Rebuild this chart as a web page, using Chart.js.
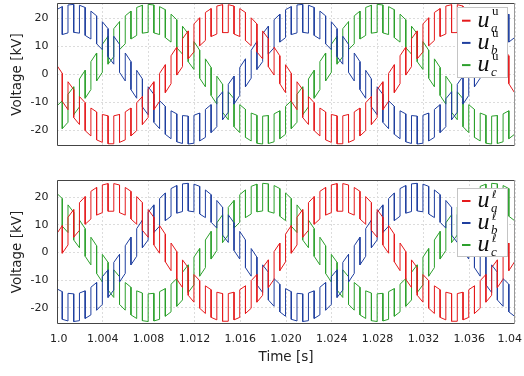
<!DOCTYPE html>
<html>
<head>
<meta charset="utf-8">
<script src="https://cdn.jsdelivr.net/npm/chart.js@4.4.0/dist/chart.umd.min.js"></script>
<style>
    html, body { margin: 0; padding: 0; background: #fff; }
    #wrap { position: relative; width: 524px; height: 376px; }
    #upper { position: absolute; left: 0; top: 0; }
    #lower { position: absolute; left: 0; top: 163px; }
</style>
</head>
<body>
<div id="wrap">
    <canvas id="upper" width="524" height="163"></canvas>
    <canvas id="lower" width="524" height="213"></canvas>
</div>
<script>
// Switching instants [s] (common to all arms)
const switchTimes = [
    1.00046, 1.00096, 1.00146, 1.00196, 1.00246, 1.00296, 1.00346, 1.00396, 1.00446, 1.00496,
    1.00546, 1.00596, 1.00646, 1.00696, 1.00746, 1.00796, 1.00846, 1.00896, 1.00946, 1.00996,
    1.01046, 1.01096, 1.01146, 1.01196, 1.01246, 1.01296, 1.01346, 1.01396, 1.01446, 1.01496,
    1.01546, 1.01596, 1.01646, 1.01696, 1.01746, 1.01796, 1.01846, 1.01896, 1.01946, 1.01996,
    1.02046, 1.02096, 1.02146, 1.02196, 1.02246, 1.02296, 1.02346, 1.02396, 1.02446, 1.02496,
    1.02546, 1.02596, 1.02646, 1.02696, 1.02746, 1.02796, 1.02846, 1.02896, 1.02946, 1.02996,
    1.03046, 1.03096, 1.03146, 1.03196, 1.03246, 1.03296, 1.03346, 1.03396, 1.03446, 1.03496,
    1.03546, 1.03596, 1.03646, 1.03696, 1.03746, 1.03796, 1.03846, 1.03896, 1.03946, 1.03996
];
const tStart = 1.0;
const tEnd = 1.04;

// Arm voltages [kV]: start value, then (before, after) at every switching instant, then end value
const uaUpper = [3.1,
    0.3,-9.7, -12.7,-2.7, -5.5,-15.5, -18.0,-8.0, -10.2,-20.2, -22.1,-12.1, -13.5,-23.5, -24.4,-14.4, -14.9,-24.9, -24.9,-14.9,
    -14.4,-24.4, -23.5,-13.5, -12.1,-22.1, -20.2,-10.2, -8.0,-18.0, -15.5,-5.5, -2.7,-12.7, -9.7,0.3, 3.4,-6.6, -3.4,6.6,
    9.7,-0.3, 2.7,12.7, 15.5,5.5, 8.0,18.0, 20.2,10.2, 12.1,22.1, 23.5,13.5, 14.4,24.4, 24.9,14.9, 14.9,24.9,
    24.4,14.4, 13.5,23.5, 22.1,12.1, 10.2,20.2, 18.0,8.0, 5.5,15.5, 12.7,2.7, -0.3,9.7, 6.6,-3.4, -6.6,3.4,
    0.3,-9.7, -12.7,-2.7, -5.5,-15.5, -18.0,-8.0, -10.2,-20.2, -22.1,-12.1, -13.5,-23.5, -24.4,-14.4, -14.9,-24.9, -24.9,-14.9,
    -14.4,-24.4, -23.5,-13.5, -12.1,-22.1, -20.2,-10.2, -8.0,-18.0, -15.5,-5.5, -2.7,-12.7, -9.7,0.3, 3.4,-6.6, -3.4,6.6,
    9.7,-0.3, 2.7,12.7, 15.5,5.5, 8.0,18.0, 20.2,10.2, 12.1,22.1, 23.5,13.5, 14.4,24.4, 24.9,14.9, 14.9,24.9,
    24.4,14.4, 13.5,23.5, 22.1,12.1, 10.2,20.2, 18.0,8.0, 5.5,15.5, 12.7,2.7, -0.3,9.7, 6.6,-3.4, -6.6,3.4,
    3.1];
const ubUpper = [23.2,
    24.2,14.2, 14.8,24.8, 25.0,15.0, 14.7,24.7, 23.9,13.9, 12.6,22.6, 20.9,10.9, 8.8,18.8, 16.3,6.3, 3.6,13.6,
    10.7,0.7, -2.4,7.6, 4.5,-5.5, -8.6,1.4, -1.7,-11.7, -14.5,-4.5, -7.2,-17.2, -19.5,-9.5, -11.5,-21.5, -23.1,-13.1,
    -14.2,-24.2, -24.8,-14.8, -15.0,-25.0, -24.7,-14.7, -13.9,-23.9, -22.6,-12.6, -10.9,-20.9, -18.8,-8.8, -6.3,-16.3, -13.6,-3.6,
    -0.7,-10.7, -7.6,2.4, 5.5,-4.5, -1.4,8.6, 11.7,1.7, 4.5,14.5, 17.2,7.2, 9.5,19.5, 21.5,11.5, 13.1,23.1,
    24.2,14.2, 14.8,24.8, 25.0,15.0, 14.7,24.7, 23.9,13.9, 12.6,22.6, 20.9,10.9, 8.8,18.8, 16.3,6.3, 3.6,13.6,
    10.7,0.7, -2.4,7.6, 4.5,-5.5, -8.6,1.4, -1.7,-11.7, -14.5,-4.5, -7.2,-17.2, -19.5,-9.5, -11.5,-21.5, -23.1,-13.1,
    -14.2,-24.2, -24.8,-14.8, -15.0,-25.0, -24.7,-14.7, -13.9,-23.9, -22.6,-12.6, -10.9,-20.9, -18.8,-8.8, -6.3,-16.3, -13.6,-3.6,
    -0.7,-10.7, -7.6,2.4, 5.5,-4.5, -1.4,8.6, 11.7,1.7, 4.5,14.5, 17.2,7.2, 9.5,19.5, 21.5,11.5, 13.1,23.1,
    23.2];
const ucUpper = [-11.3,
    -9.5,-19.5, -17.2,-7.2, -4.5,-14.5, -11.7,-1.7, 1.4,-8.6, -5.5,4.5, 7.6,-2.4, 0.7,10.7, 13.6,3.6, 6.3,16.3,
    18.8,8.8, 10.9,20.9, 22.6,12.6, 13.9,23.9, 24.7,14.7, 15.0,25.0, 24.8,14.8, 14.2,24.2, 23.1,13.1, 11.5,21.5,
    19.5,9.5, 7.2,17.2, 14.5,4.5, 1.7,11.7, 8.6,-1.4, -4.5,5.5, 2.4,-7.6, -10.7,-0.7, -3.6,-13.6, -16.3,-6.3,
    -8.8,-18.8, -20.9,-10.9, -12.6,-22.6, -23.9,-13.9, -14.7,-24.7, -25.0,-15.0, -14.8,-24.8, -24.2,-14.2, -13.1,-23.1, -21.5,-11.5,
    -9.5,-19.5, -17.2,-7.2, -4.5,-14.5, -11.7,-1.7, 1.4,-8.6, -5.5,4.5, 7.6,-2.4, 0.7,10.7, 13.6,3.6, 6.3,16.3,
    18.8,8.8, 10.9,20.9, 22.6,12.6, 13.9,23.9, 24.7,14.7, 15.0,25.0, 24.8,14.8, 14.2,24.2, 23.1,13.1, 11.5,21.5,
    19.5,9.5, 7.2,17.2, 14.5,4.5, 1.7,11.7, 8.6,-1.4, -4.5,5.5, 2.4,-7.6, -10.7,-0.7, -3.6,-13.6, -16.3,-6.3,
    -8.8,-18.8, -20.9,-10.9, -12.6,-22.6, -23.9,-13.9, -14.7,-24.7, -25.0,-15.0, -14.8,-24.8, -24.2,-14.2, -13.1,-23.1, -21.5,-11.5,
    -11.3];

const uaLower = [6.9,
    9.7,-0.3, 2.7,12.7, 15.5,5.5, 8.0,18.0, 20.2,10.2, 12.1,22.1, 23.5,13.5, 14.4,24.4, 24.9,14.9, 14.9,24.9,
    24.4,14.4, 13.5,23.5, 22.1,12.1, 10.2,20.2, 18.0,8.0, 5.5,15.5, 12.7,2.7, -0.3,9.7, 6.6,-3.4, -6.6,3.4,
    0.3,-9.7, -12.7,-2.7, -5.5,-15.5, -18.0,-8.0, -10.2,-20.2, -22.1,-12.1, -13.5,-23.5, -24.4,-14.4, -14.9,-24.9, -24.9,-14.9,
    -14.4,-24.4, -23.5,-13.5, -12.1,-22.1, -20.2,-10.2, -8.0,-18.0, -15.5,-5.5, -2.7,-12.7, -9.7,0.3, 3.4,-6.6, -3.4,6.6,
    9.7,-0.3, 2.7,12.7, 15.5,5.5, 8.0,18.0, 20.2,10.2, 12.1,22.1, 23.5,13.5, 14.4,24.4, 24.9,14.9, 14.9,24.9,
    24.4,14.4, 13.5,23.5, 22.1,12.1, 10.2,20.2, 18.0,8.0, 5.5,15.5, 12.7,2.7, -0.3,9.7, 6.6,-3.4, -6.6,3.4,
    0.3,-9.7, -12.7,-2.7, -5.5,-15.5, -18.0,-8.0, -10.2,-20.2, -22.1,-12.1, -13.5,-23.5, -24.4,-14.4, -14.9,-24.9, -24.9,-14.9,
    -14.4,-24.4, -23.5,-13.5, -12.1,-22.1, -20.2,-10.2, -8.0,-18.0, -15.5,-5.5, -2.7,-12.7, -9.7,0.3, 3.4,-6.6, -3.4,6.6,
    6.9];
const ubLower = [-13.2,
    -14.2,-24.2, -24.8,-14.8, -15.0,-25.0, -24.7,-14.7, -13.9,-23.9, -22.6,-12.6, -10.9,-20.9, -18.8,-8.8, -6.3,-16.3, -13.6,-3.6,
    -0.7,-10.7, -7.6,2.4, 5.5,-4.5, -1.4,8.6, 11.7,1.7, 4.5,14.5, 17.2,7.2, 9.5,19.5, 21.5,11.5, 13.1,23.1,
    24.2,14.2, 14.8,24.8, 25.0,15.0, 14.7,24.7, 23.9,13.9, 12.6,22.6, 20.9,10.9, 8.8,18.8, 16.3,6.3, 3.6,13.6,
    10.7,0.7, -2.4,7.6, 4.5,-5.5, -8.6,1.4, -1.7,-11.7, -14.5,-4.5, -7.2,-17.2, -19.5,-9.5, -11.5,-21.5, -23.1,-13.1,
    -14.2,-24.2, -24.8,-14.8, -15.0,-25.0, -24.7,-14.7, -13.9,-23.9, -22.6,-12.6, -10.9,-20.9, -18.8,-8.8, -6.3,-16.3, -13.6,-3.6,
    -0.7,-10.7, -7.6,2.4, 5.5,-4.5, -1.4,8.6, 11.7,1.7, 4.5,14.5, 17.2,7.2, 9.5,19.5, 21.5,11.5, 13.1,23.1,
    24.2,14.2, 14.8,24.8, 25.0,15.0, 14.7,24.7, 23.9,13.9, 12.6,22.6, 20.9,10.9, 8.8,18.8, 16.3,6.3, 3.6,13.6,
    10.7,0.7, -2.4,7.6, 4.5,-5.5, -8.6,1.4, -1.7,-11.7, -14.5,-4.5, -7.2,-17.2, -19.5,-9.5, -11.5,-21.5, -23.1,-13.1,
    -13.2];
const ucLower = [21.3,
    19.5,9.5, 7.2,17.2, 14.5,4.5, 1.7,11.7, 8.6,-1.4, -4.5,5.5, 2.4,-7.6, -10.7,-0.7, -3.6,-13.6, -16.3,-6.3,
    -8.8,-18.8, -20.9,-10.9, -12.6,-22.6, -23.9,-13.9, -14.7,-24.7, -25.0,-15.0, -14.8,-24.8, -24.2,-14.2, -13.1,-23.1, -21.5,-11.5,
    -9.5,-19.5, -17.2,-7.2, -4.5,-14.5, -11.7,-1.7, 1.4,-8.6, -5.5,4.5, 7.6,-2.4, 0.7,10.7, 13.6,3.6, 6.3,16.3,
    18.8,8.8, 10.9,20.9, 22.6,12.6, 13.9,23.9, 24.7,14.7, 15.0,25.0, 24.8,14.8, 14.2,24.2, 23.1,13.1, 11.5,21.5,
    19.5,9.5, 7.2,17.2, 14.5,4.5, 1.7,11.7, 8.6,-1.4, -4.5,5.5, 2.4,-7.6, -10.7,-0.7, -3.6,-13.6, -16.3,-6.3,
    -8.8,-18.8, -20.9,-10.9, -12.6,-22.6, -23.9,-13.9, -14.7,-24.7, -25.0,-15.0, -14.8,-24.8, -24.2,-14.2, -13.1,-23.1, -21.5,-11.5,
    -9.5,-19.5, -17.2,-7.2, -4.5,-14.5, -11.7,-1.7, 1.4,-8.6, -5.5,4.5, 7.6,-2.4, 0.7,10.7, 13.6,3.6, 6.3,16.3,
    18.8,8.8, 10.9,20.9, 22.6,12.6, 13.9,23.9, 24.7,14.7, 15.0,25.0, 24.8,14.8, 14.2,24.2, 23.1,13.1, 11.5,21.5,
    21.3];

// Ticks
const xTickValues = [1.0, 1.004, 1.008, 1.012, 1.016, 1.020, 1.024, 1.028, 1.032, 1.036, 1.04];
const xTickLabels = [' 1.0', '1.004', '1.008', '1.012', '1.016', '1.020', '1.024', '1.028', '1.032', '1.036', '1.04   '];
const yTickValues = [-20, -10, 0, 10, 20];
const yTickLabels = ['-20', '-10', '0', '10', '20'];

const phaseSubs = ['a', 'b', 'c'];
const phaseColors = ['#e41a1c', '#1f3f9f', '#2ca02c'];

// x positions: each switching instant appears twice (vertical jump)
const timeAxis = [tStart];
switchTimes.forEach(t => { timeAxis.push(t, t); });
timeAxis.push(tEnd);

function lineSet(label, values, color) {
    return {
        label: label,
        data: values.map((v, i) => ({ x: timeAxis[i], y: v })),
        borderColor: color,
        borderWidth: 1,
        pointRadius: 0,
        fill: false,
        tension: 0
    };
}

// Frame around the plot area
const framePlugin = {
    id: 'frame',
    afterDatasetsDraw(chart) {
        const { ctx, chartArea: a } = chart;
        ctx.save();
        ctx.lineWidth = 1;
        ctx.strokeStyle = '#444';
        ctx.beginPath();
        ctx.moveTo(a.right, a.top + 0.5);
        ctx.lineTo(a.left + 0.5, a.top + 0.5);
        ctx.lineTo(a.left + 0.5, a.bottom - 0.5);
        ctx.lineTo(a.right, a.bottom - 0.5);
        ctx.stroke();
        ctx.strokeStyle = '#999';
        ctx.beginPath();
        ctx.moveTo(a.right - 0.5, a.top);
        ctx.lineTo(a.right - 0.5, a.bottom);
        ctx.stroke();
        ctx.restore();
    }
};

// Legend with sub/superscripts
function mathLegend(supText, supFont, supRise, box, firstY, gap) {
    return {
        id: 'mathLegend',
        afterDraw(chart) {
            const ctx = chart.ctx;
            const [bx, by, bw, bh] = box;
            ctx.save();
            ctx.fillStyle = '#fff';
            ctx.fillRect(bx, by, bw, bh);
            ctx.strokeStyle = '#c4c4c4';
            ctx.lineWidth = 1;
            ctx.strokeRect(bx + 0.5, by + 0.5, bw, bh);
            ctx.textAlign = 'left';
            ctx.textBaseline = 'alphabetic';
            phaseSubs.forEach((sub, i) => {
                const y = firstY + i * gap;
                ctx.strokeStyle = phaseColors[i];
                ctx.lineWidth = 2;
                ctx.beginPath();
                ctx.moveTo(bx + 5, y);
                ctx.lineTo(bx + 13.5, y);
                ctx.stroke();
                ctx.fillStyle = '#111';
                ctx.font = 'italic 24px "Liberation Serif"';
                ctx.fillText('u', bx + 20.5, y + 6);
                ctx.font = supFont;
                ctx.fillText(supText, bx + 35, y - supRise);
                ctx.font = 'italic 13px "Liberation Serif"';
                ctx.fillText(sub, bx + 34, y + 11);
            });
            ctx.restore();
        }
    };
}

const gridStyle = { color: '#dcdcdc', lineWidth: 1, drawTicks: false };
const tickFont = { family: 'DejaVu Sans', size: 11 };
const titleFont = { family: 'DejaVu Sans', size: 13.5 };

function makeChart(canvasId, datasets, cfg) {
    return new Chart(document.getElementById(canvasId), {
        type: 'line',
        data: { datasets: datasets },
        options: {
            responsive: false,
            animation: false,
            layout: { padding: { top: cfg.padTop, right: 9, left: 0, bottom: 0 } },
            plugins: { legend: { display: false }, tooltip: { enabled: false } },
            scales: {
                x: {
                    type: 'linear',
                    min: tStart,
                    max: tEnd,
                    afterBuildTicks: s => { s.ticks = xTickValues.map(v => ({ value: v })); },
                    afterFit: s => { s.height = cfg.xAxisHeight; s.paddingLeft = 0; s.paddingRight = 0; },
                    grid: gridStyle,
                    border: { display: false, dash: [2, 2] },
                    ticks: {
                        display: cfg.showX,
                        maxRotation: 0,
                        autoSkip: false,
                        padding: 9,
                        color: '#222',
                        font: tickFont,
                        callback: (v, i) => xTickLabels[i]
                    },
                    title: {
                        display: cfg.showX,
                        text: 'Time [s]',
                        color: '#222',
                        font: titleFont,
                        padding: { top: 0, bottom: 10 }
                    }
                },
                y: {
                    min: cfg.yMin,
                    max: cfg.yMax,
                    afterBuildTicks: s => { s.ticks = yTickValues.map(v => ({ value: v })); },
                    afterFit: s => { s.width = 57; s.paddingTop = 0; s.paddingBottom = 0; },
                    grid: gridStyle,
                    border: { display: false, dash: [2, 2] },
                    ticks: {
                        padding: 8.5,
                        color: '#222',
                        font: tickFont,
                        callback: (v, i) => yTickLabels[i]
                    },
                    title: {
                        display: true,
                        text: 'Voltage [kV]',
                        color: '#222',
                        font: titleFont,
                        padding: { top: 9.4, bottom: 0 }
                    }
                }
            }
        },
        plugins: [framePlugin, mathLegend(cfg.sup, cfg.supFont, cfg.supRise, cfg.legendBox, cfg.legendY, cfg.legendGap)]
    });
}

makeChart('upper', [
    lineSet('u_a^u', uaUpper, phaseColors[0]),
    lineSet('u_b^u', ubUpper, phaseColors[1]),
    lineSet('u_c^u', ucUpper, phaseColors[2])
], { padTop: 3, xAxisHeight: 17, showX: false, yMin: -25.7, yMax: 25.5,
     sup: 'u', supFont: '13px "Liberation Serif"', supRise: 5.5,
     legendBox: [457, 7, 50, 70], legendY: 20.7, legendGap: 22.2 });

makeChart('lower', [
    lineSet('u_a^ℓ', uaLower, phaseColors[0]),
    lineSet('u_b^ℓ', ubLower, phaseColors[1]),
    lineSet('u_c^ℓ', ucLower, phaseColors[2])
], { padTop: 17, xAxisHeight: 52, showX: true, yMin: -25.9, yMax: 26.2,
     sup: 'ℓ', supFont: '11px "DejaVu Sans"', supRise: 3.5,
     legendBox: [457, 25, 50, 68], legendY: 38, legendGap: 22 });
</script>
</body>
</html>
